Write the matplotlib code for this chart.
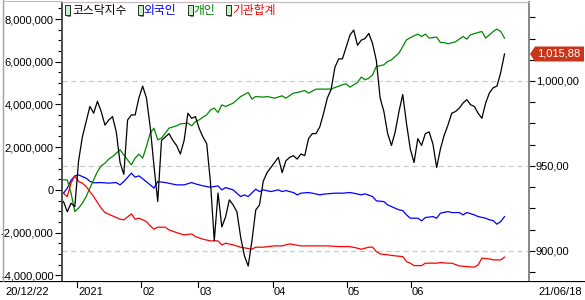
import matplotlib.pyplot as plt
from matplotlib.ticker import MultipleLocator, FuncFormatter
from matplotlib.patches import Rectangle, Polygon
from matplotlib.lines import Line2D
from matplotlib.transforms import blended_transform_factory

# trading-day index (0 = 20/12/22, 117 = 21/06/18) and values
kosdaq_day = list(range(118))
kosdaq = [929, 923, 928, 926, 953, 967, 976, 985, 981, 988,
          982, 974, 977, 979, 970, 952, 945, 977, 980, 980,
          990, 997, 990, 973, 950, 929, 965, 967, 969, 965,
          962, 957, 965, 981, 978, 979, 972, 967, 963, 940,
          906, 934, 914, 920, 930, 927, 923, 908, 897, 891,
          906, 924, 927, 941, 946, 949, 952, 955, 946, 953,
          955, 956, 954, 957, 956, 966, 969, 969, 973, 981,
          990, 995, 1008, 1013, 1013, 1020, 1027, 1030, 1021, 1024,
          1025, 1028, 1022, 1012, 990, 982, 969, 962, 970, 982,
          992, 975, 960, 952, 966, 962, 969, 970, 963, 949,
          960, 968, 974, 981, 982, 984, 987, 989, 986, 985,
          981, 978, 987, 993, 996, 997, 1005, 1015.88]

foreign_day = [0, 1, 2, 3, 4, 6, 7, 8, 10, 12, 14, 15, 16, 18, 19, 20, 21, 23, 24, 25,
               27, 30, 32, 34, 35, 37, 39, 41, 42, 43, 45, 47, 48, 49, 51, 52, 53, 55, 57, 58,
               59, 61, 62, 63, 65, 66, 68, 69, 72, 74, 76, 77, 79, 80, 82, 83, 85, 86, 87, 89,
               90, 91, 92, 94, 95, 96, 98, 99, 100, 102, 103, 105, 106, 107, 109, 110, 112, 113, 114, 115,
               116, 117]
foreign = [-155, 80, 450, 650, 700, 548, 400, 330, 342, 314, 342, 234, 389, 782, 595, 656, 520, 234, 80, 389,
           342, 234, 234, 342, 281, 187, 126, 187, 0, 108, 0, -314, -234, -314, 33, -80, 0, -80, 0, -80,
           -33, -126, -234, -155, -126, -155, -234, -201, -155, -155, -126, -155, -234, -187, -314, -515, -548, -703, -782, -937,
           -970, -1171, -1326, -1326, -1452, -1297, -1251, -1326, -1091, -1016, -1063, -1063, -1171, -1063, -1171, -1251, -1326, -1405, -1438, -1607,
           -1485, -1251]

individual_day = [0, 1, 2, 3, 4, 5, 6, 7, 8, 9, 10, 11, 12, 13, 15, 16, 18, 19, 20, 21,
                  22, 23, 24, 25, 26, 27, 28, 30, 31, 33, 34, 35, 36, 37, 38, 39, 40, 41, 42, 43,
                  45, 46, 47, 49, 50, 51, 53, 54, 56, 58, 59, 61, 62, 64, 65, 67, 69, 71, 72, 74,
                  75, 76, 78, 79, 80, 81, 82, 83, 85, 86, 87, 88, 89, 90, 91, 93, 94, 95, 96, 97,
                  99, 100, 101, 102, 104, 105, 106, 107, 108, 110, 111, 112, 113, 114, 115, 116, 117]
individual = [468, 468, -150, -1016, -857, -623, -314, 80, 468, 857, 1124, 1251, 1438, 1560, 1874, 1639, 1171, 1485, 1672, 1485,
              2028, 2656, 2890, 2342, 2422, 2656, 2890, 2998, 3091, 3124, 2998, 3199, 3279, 3405, 3513, 3747, 3827, 3621, 3981, 3902,
              4061, 4216, 4370, 4558, 4248, 4370, 4342, 4370, 4295, 4403, 4295, 4529, 4558, 4651, 4529, 4717, 4717, 4717, 4792, 4918,
              4965, 4810, 5026, 5279, 5152, 5232, 5386, 5775, 5855, 6009, 6089, 6244, 6403, 6712, 7026, 7213, 7293, 7180, 7293, 7105,
              7152, 6899, 6899, 6838, 6932, 7059, 7180, 7059, 7260, 7368, 7415, 7105, 7260, 7415, 7527, 7415, 7105]

institution_day = [0, 1, 2, 3, 4, 5, 6, 8, 10, 11, 13, 15, 16, 18, 19, 20, 22, 23, 24, 25,
                   27, 28, 30, 32, 34, 35, 37, 39, 41, 42, 43, 45, 47, 50, 51, 53, 56, 58, 60, 63,
                   65, 70, 73, 76, 78, 79, 80, 81, 82, 83, 84, 86, 88, 90, 91, 92, 93, 95, 96, 99,
                   100, 102, 103, 105, 107, 109, 110, 111, 113, 114, 116, 117]
institution = [-155, -314, 314, 656, 389, 314, 155, -314, -857, -1063, -1218, -1372, -1405, -1124, -1372, -1326, -1485, -1686, -1841, -1747,
               -1747, -1874, -2000, -2108, -2061, -2187, -2309, -2389, -2389, -2576, -2497, -2576, -2684, -2778, -2684, -2684, -2623, -2623, -2529, -2623,
               -2623, -2623, -2656, -2656, -2731, -2778, -2731, -2684, -2684, -2890, -2998, -3044, -3091, -3124, -3358, -3433, -3546, -3546, -3433, -3433,
               -3405, -3433, -3433, -3560, -3593, -3621, -3513, -3199, -3232, -3279, -3279, -3152]

month_day = [6, 25, 42, 64, 86, 105]
month_label = ['2021', '02', '03', '04', '05', '06']
first_label, last_label = '20/12/22', '21/06/18'

legend_items = [('코스닥지수', 'black'), ('외국인', 'blue'), ('개인', 'green'), ('기관합계', 'red')]

W, H = 585, 300
num_font = 'Liberation Sans'
kr_font = ['Noto Sans CJK KR', 'DejaVu Sans']


def fx(px):
    return px / W


def fy(py):
    return 1 - py / H


fig = plt.figure(figsize=(W / 100, H / 100), dpi=100)
fig.patch.set_facecolor('white')

ax = fig.add_axes([fx(62), fy(281), fx(529) - fx(62), fy(2) - fy(281)])
ax2 = ax.twinx()

thousand = 1000
ax.plot(foreign_day, [v * thousand for v in foreign], color='#0000ff', lw=0.9)
ax.plot(individual_day, [v * thousand for v in individual], color='#008800', lw=0.9)
ax.plot(institution_day, [v * thousand for v in institution], color='#ff0000', lw=0.9)
ax2.plot(kosdaq_day, kosdaq, color='black', lw=0.9)

ax.set_xlim(-0.4, 123.5)
ax.set_ylim(-4267000, 8796000)
ax2.set_ylim(882.2, 1046.5)

# dashed grid at right-axis levels
grid_tr = blended_transform_factory(ax.transAxes, ax2.transData)
for lv in [900, 950, 1000]:
    ax.add_line(Line2D([0, 1], [lv, lv], transform=grid_tr, color='#c4cccc',
                       lw=0.9, ls=(0, (4, 3)), zorder=0))

ax.set_xticks([])
ax.yaxis.set_major_locator(MultipleLocator(2000000))
ax.yaxis.set_minor_locator(MultipleLocator(500000))
ax.yaxis.set_major_formatter(FuncFormatter(lambda v, p: '{:,}'.format(int(round(v)))))
ax.tick_params(axis='y', which='major', length=5, width=0.8, pad=1, labelsize=8)
ax.tick_params(axis='y', which='minor', length=3, width=0.8)

ax2.yaxis.set_major_locator(MultipleLocator(50))
ax2.yaxis.set_minor_locator(MultipleLocator(12.5))
ax2.yaxis.set_major_formatter(FuncFormatter(lambda v, p: '{:,.2f}'.format(v).replace('.', ',')))
ax2.tick_params(axis='y', which='major', length=4, width=0.8, pad=1, labelsize=8)
ax2.tick_params(axis='y', which='minor', length=4, width=0.8)

for a in (ax, ax2):
    for lab in a.get_yticklabels():
        lab.set_fontfamily(num_font)
    a.spines['bottom'].set_visible(False)
    a.spines['top'].set_color('#c8b8c0')
    a.spines['top'].set_linewidth(0.8)
    a.spines['left'].set_color('#505050')
    a.spines['left'].set_linewidth(1.4)
    a.spines['right'].set_color('#8a8a8a')
    a.spines['right'].set_linewidth(1.4)

# bottom date strip
axb = fig.add_axes([0, 0, 1, fy(281)])
axb.set_xlim(-16.83, 156.55)
axb.set_ylim(0, 1)
axb.axis('off')
axb.axhline(1, color='black', lw=1.6)
for d, lab in zip(month_day, month_label):
    axb.plot([d, d], [1, 0.68], color='black', lw=0.8)
    axb.text(d + 0.3, 0.42, lab, ha='left', va='center', fontsize=8, family=num_font)
axb.text(fx(5), 0.42, first_label, transform=axb.transAxes, ha='left', va='center',
         fontsize=8, family=num_font)
axb.text(fx(582), 0.42, last_label, transform=axb.transAxes, ha='right', va='center',
         fontsize=8, family=num_font)

# frame lines
fig.add_artist(Line2D([fx(3), fx(3)], [fy(0), fy(281)], color='#a0a0a0', lw=1.0))
fig.add_artist(Line2D([fx(3), fx(62)], [fy(1), fy(1)], color='#c8b8c0', lw=0.8))

# legend
icon_x = [65, 138, 188, 226]
text_x = [72, 143, 193, 232]
for (name, col), ix, tx in zip(legend_items, icon_x, text_x):
    fig.add_artist(Rectangle((fx(ix + 1.5), fy(16.5)), 4.5 / W, 10 / H,
                             facecolor='#909090', edgecolor='none'))
    fig.add_artist(Rectangle((fx(ix), fy(15)), 4.5 / W, 10 / H,
                             facecolor='#c8f0c8', edgecolor='#203020', lw=0.7))
    fig.text(fx(tx), fy(10.5), name, color=col, fontsize=8.5, family=kr_font,
             ha='left', va='center')

# last price tag
last = kosdaq[-1]
ty = ax2.transData.transform((0, last))[1] / fig.dpi / (H / 100)
hh = 7.5 / H
tag = Polygon([(fx(530), ty), (fx(535), ty + hh), (fx(584), ty + hh),
               (fx(584), ty - hh), (fx(535), ty - hh)],
              closed=True, facecolor='#c8361a', edgecolor='none', transform=fig.transFigure)
fig.add_artist(tag)
fig.text(fx(559), ty, '{:,.2f}'.format(last).replace('.', ','), color='white',
         fontsize=8, family=num_font, ha='center', va='center')

fig.savefig('out.png', dpi=100)
